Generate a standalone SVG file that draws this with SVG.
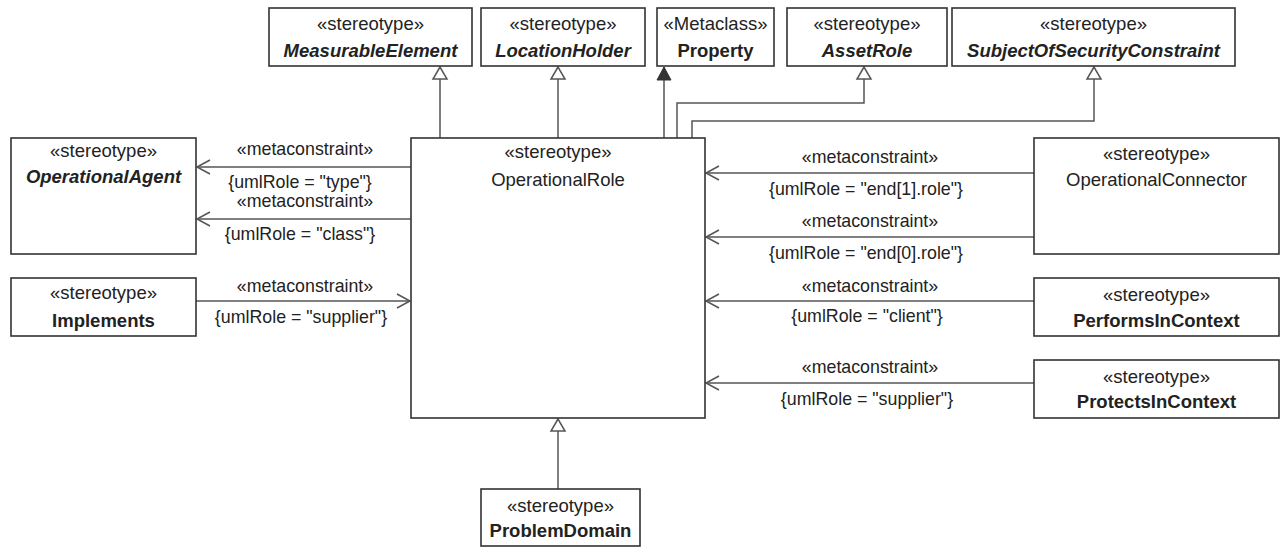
<svg xmlns="http://www.w3.org/2000/svg" width="1281" height="548" viewBox="0 0 1281 548">
<style>
.box{fill:#fff;stroke:#333;stroke-width:1.6}
text{font-family:"Liberation Sans",Arial,sans-serif;font-size:18.5px;fill:#222;text-anchor:middle}
.it{font-style:italic;font-weight:bold}
.b{font-weight:bold}
.lbl{font-size:17.8px}
.con{fill:none;stroke:#555;stroke-width:1.5}
</style>
<defs>
<marker id="open" markerUnits="userSpaceOnUse" markerWidth="16" markerHeight="16" viewBox="-14 -8 16 16" refX="0" refY="0" orient="auto">
<path d="M-13,-7 L0,0 L-13,7" fill="none" stroke="#555" stroke-width="1.5"/>
</marker>
<marker id="gen" markerUnits="userSpaceOnUse" markerWidth="16" markerHeight="18" viewBox="-14 -9 16 18" refX="0" refY="0" orient="auto">
<path d="M0,0 L-12,-7 L-12,7 Z" fill="#fff" stroke="#555" stroke-width="1.5"/>
</marker>
<marker id="filled" markerUnits="userSpaceOnUse" markerWidth="16" markerHeight="18" viewBox="-14 -9 16 18" refX="0" refY="0" orient="auto">
<path d="M0,0 L-13,-7 L-13,7 Z" fill="#333" stroke="#333" stroke-width="1"/>
</marker>
</defs>

<g id="connectors">
<path class="con" d="M440,138 V67" marker-end="url(#gen)"/>
<path class="con" d="M558,138 V67" marker-end="url(#gen)"/>
<path class="con" d="M664,138 V67" marker-end="url(#filled)"/>
<path class="con" d="M677,138 V103 H864 V67" marker-end="url(#gen)"/>
<path class="con" d="M692,138 V121 H1094 V67" marker-end="url(#gen)"/>
<path class="con" d="M558,489 V419" marker-end="url(#gen)"/>
<path class="con" d="M411,167 H197" marker-end="url(#open)"/>
<path class="con" d="M411,219 H197" marker-end="url(#open)"/>
<path class="con" d="M196,301 H410" marker-end="url(#open)"/>
<path class="con" d="M1034,173 H706" marker-end="url(#open)"/>
<path class="con" d="M1034,237 H706" marker-end="url(#open)"/>
<path class="con" d="M1034,301 H706" marker-end="url(#open)"/>
<path class="con" d="M1034,383 H706" marker-end="url(#open)"/>
<text class="lbl" x="305" y="155">«metaconstraint»</text>
<text class="lbl" x="300" y="188">{umlRole = "type"}</text>
<text class="lbl" x="305" y="207">«metaconstraint»</text>
<text class="lbl" x="300" y="240">{umlRole = "class"}</text>
<text class="lbl" x="305" y="292">«metaconstraint»</text>
<text class="lbl" x="301" y="323">{umlRole = "supplier"}</text>
<text class="lbl" x="870" y="163">«metaconstraint»</text>
<text class="lbl" x="866" y="195">{umlRole = "end[1].role"}</text>
<text class="lbl" x="870" y="227">«metaconstraint»</text>
<text class="lbl" x="866" y="259">{umlRole = "end[0].role"}</text>
<text class="lbl" x="870" y="292">«metaconstraint»</text>
<text class="lbl" x="867" y="322">{umlRole = "client"}</text>
<text class="lbl" x="870" y="373">«metaconstraint»</text>
<text class="lbl" x="867" y="405">{umlRole = "supplier"}</text>
</g>

<g id="MeasurableElement">
<rect class="box" x="269" y="8" width="203" height="58"/>
<text x="370.5" y="30">«stereotype»</text>
<text class="it" x="370.5" y="57">MeasurableElement</text>
</g>
<g id="LocationHolder">
<rect class="box" x="481" y="8" width="164" height="58"/>
<text x="563" y="30">«stereotype»</text>
<text class="it" x="563" y="57">LocationHolder</text>
</g>
<g id="Property">
<rect class="box" x="657" y="8" width="117" height="58"/>
<text x="715.5" y="30">«Metaclass»</text>
<text class="b" x="715.5" y="57">Property</text>
</g>
<g id="AssetRole">
<rect class="box" x="787" y="8" width="160" height="58"/>
<text x="867" y="30">«stereotype»</text>
<text class="it" x="867" y="57">AssetRole</text>
</g>
<g id="SubjectOfSecurityConstraint">
<rect class="box" x="952" y="8" width="283" height="58"/>
<text x="1093.5" y="30">«stereotype»</text>
<text class="it" x="1093.5" y="57">SubjectOfSecurityConstraint</text>
</g>
<g id="OperationalAgent">
<rect class="box" x="11" y="138" width="185" height="116"/>
<text x="103.5" y="157">«stereotype»</text>
<text class="it" x="103.5" y="183">OperationalAgent</text>
</g>
<g id="Implements">
<rect class="box" x="11" y="278" width="185" height="58"/>
<text x="103.5" y="299">«stereotype»</text>
<text class="b" x="103.5" y="327">Implements</text>
</g>
<g id="OperationalRole">
<rect class="box" x="411" y="138" width="294" height="280"/>
<text x="558" y="158">«stereotype»</text>
<text x="558" y="186">OperationalRole</text>
</g>
<g id="OperationalConnector">
<rect class="box" x="1034" y="138" width="245" height="116"/>
<text x="1156.5" y="160">«stereotype»</text>
<text x="1156.5" y="186">OperationalConnector</text>
</g>
<g id="PerformsInContext">
<rect class="box" x="1034" y="278" width="245" height="58"/>
<text x="1156.5" y="301">«stereotype»</text>
<text class="b" x="1156.5" y="327">PerformsInContext</text>
</g>
<g id="ProtectsInContext">
<rect class="box" x="1034" y="360" width="245" height="58"/>
<text x="1156.5" y="383">«stereotype»</text>
<text class="b" x="1156.5" y="408">ProtectsInContext</text>
</g>
<g id="ProblemDomain">
<rect class="box" x="481" y="489" width="159" height="57"/>
<text x="560.5" y="512">«stereotype»</text>
<text class="b" x="560.5" y="537">ProblemDomain</text>
</g>
</svg>
